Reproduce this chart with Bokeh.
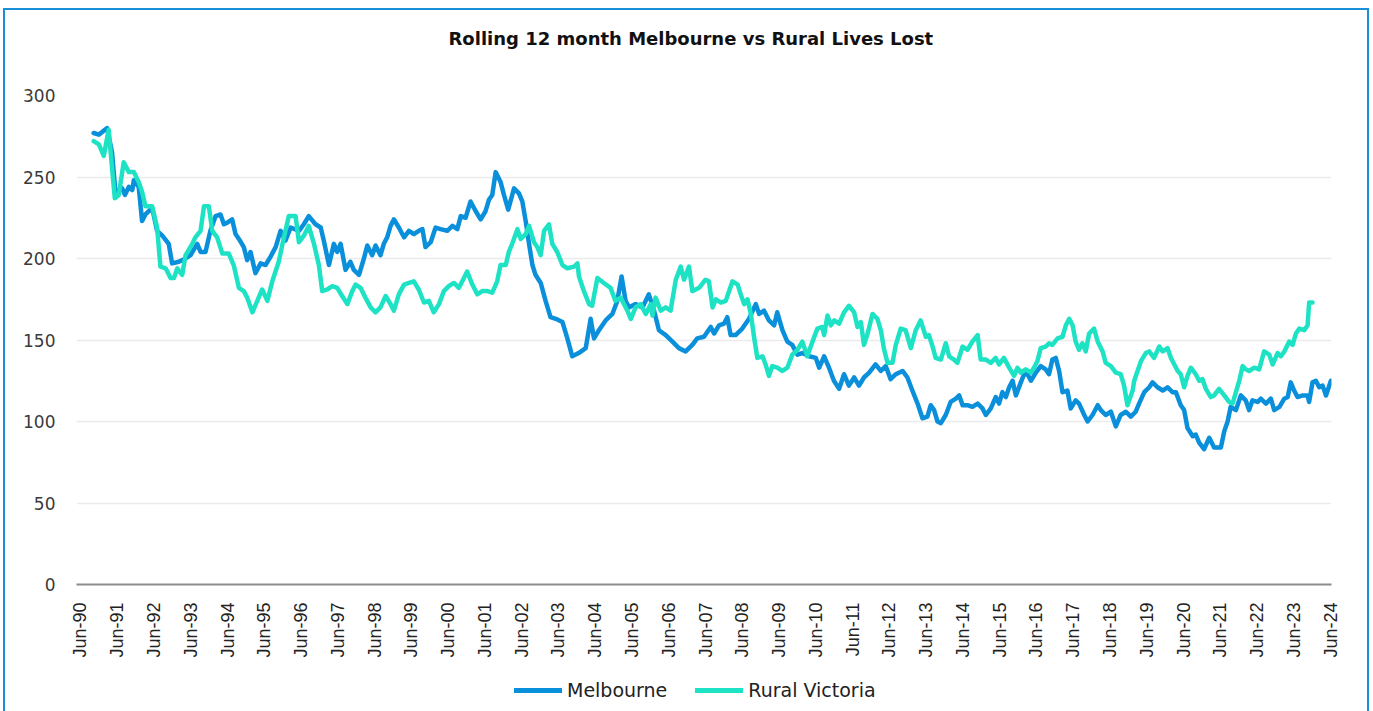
import math
from bokeh.plotting import figure
from bokeh.layouts import column
from bokeh.models import Legend, LegendItem, FixedTicker, Range1d, ColumnDataSource
from bokeh.embed import file_html
from bokeh.resources import INLINE

# x = months since Jun-1990
mel_month = [4.3,6.0,8.7,10.3,11.4,13.6,14.5,15.8,16.9,17.4,
             19.0,20.1,21.2,23.4,25.0,26.7,28.8,29.9,32.1,34.3,
             35.9,38.1,39.2,40.8,42.4,44.1,45.7,46.8,47.9,49.5,
             50.6,51.7,53.3,54.4,55.5,57.1,58.8,60.4,62.0,63.7,
             65.3,66.9,68.6,71.3,72.9,74.5,76.7,78.4,79.4,81.1,
             82.7,83.8,84.9,86.5,88.1,89.2,90.9,92.5,93.6,95.2,
             96.3,97.9,99.0,100.1,101.2,102.3,103.9,105.6,107.2,108.8,
             110.4,111.6,112.6,114.3,115.9,117.5,119.7,121.4,123.0,124.1,
             125.7,127.3,129.0,130.6,132.2,133.3,134.4,135.5,137.1,138.2,
             139.6,141.5,143.1,144.2,145.3,146.4,147.5,148.5,150.2,151.8,
             153.4,155.1,157.3,158.9,160.5,162.6,164.9,166.5,167.6,169.2,
             171.4,173.6,175.2,176.6,177.9,179.0,181.2,183.4,185.5,187.2,
             188.8,191.0,193.2,195.3,197.5,199.7,201.3,203.5,205.7,206.8,
             208.4,210.0,211.1,212.2,213.8,216.0,218.2,220.4,221.5,223.1,
             224.7,226.4,227.4,229.1,230.7,232.3,234.0,235.6,237.8,240.0,
             241.1,242.7,244.3,245.9,247.6,249.2,250.8,252.5,254.1,255.7,
             257.4,259.5,261.2,262.8,264.4,266.1,268.3,269.9,271.5,273.2,
             274.8,276.4,277.5,278.6,279.7,280.8,282.4,284.0,285.7,286.8,
             287.9,289.5,291.1,292.8,294.4,295.5,297.1,298.7,299.8,300.9,
             302.0,303.1,304.2,305.3,306.9,308.0,309.1,310.2,311.8,313.4,
             315.0,316.1,317.2,318.3,319.4,320.5,322.1,323.2,324.8,325.9,
             327.6,328.7,330.3,332.0,333.0,334.6,336.3,337.9,339.5,341.2,
             342.8,344.4,345.5,347.2,348.8,349.9,351.5,353.2,354.8,356.4,
             357.5,359.1,360.2,361.3,363.0,364.0,365.1,366.7,368.4,370.0,
             372.2,373.3,374.4,375.4,377.1,378.7,380.3,381.4,382.5,384.2,
             385.2,386.9,388.5,389.6,391.3,392.9,394.0,395.0,396.1,397.2,
             398.9,400.5,401.0,402.1,403.2,404.3,405.4,406.5,408.1]
mel_value = [277,276,280,265,241,243,239,244,242,248,
             244,223,227,231,217,214,209,197,198,200,
             202,209,204,204,217,226,227,221,222,224,
             215,212,207,199,204,191,197,196,201,207,
             217,211,219,217,221,226,221,219,211,196,
             209,204,209,193,198,193,190,200,208,202,
             208,202,209,213,220,224,219,213,217,215,
             217,218,207,210,219,218,217,220,218,226,
             225,235,229,224,229,236,239,253,247,239,
             230,243,240,235,223,209,196,190,185,174,
             164,163,161,151,140,142,145,163,151,156,
             162,166,174,189,174,170,172,170,178,168,
             156,153,149,145,143,147,151,152,158,154,
             159,160,164,153,153,157,163,172,166,168,
             162,159,167,156,149,147,141,142,140,139,
             133,140,133,125,120,129,122,127,122,127,
             130,135,131,134,126,129,131,127,119,111,
             102,103,110,107,100,99,104,112,114,116,
             110,110,109,111,108,104,108,115,111,118,
             115,121,125,116,124,129,129,125,130,134,
             132,129,138,139,131,118,119,108,113,111,
             104,100,104,110,107,104,106,97,104,106,
             103,106,111,118,121,124,121,119,121,118,
             118,110,107,96,91,92,87,83,90,84,
             84,94,100,109,107,116,113,107,113,112,
             114,111,114,107,109,114,115,124,119,115,
             116,116,112,124,125,121,122,116,125]

rur_month = [4.3,6.0,7.6,9.2,9.8,11.2,12.5,14.1,15.8,17.4,
             19.0,20.1,21.2,23.4,25.0,26.1,27.8,29.4,30.5,31.6,
             33.2,34.3,36.5,37.5,39.2,40.3,41.9,43.0,44.6,46.3,
             48.4,50.0,51.7,53.3,54.4,56.1,57.7,59.3,61.0,62.6,
             64.7,66.4,68.0,70.2,71.3,72.9,74.5,76.2,77.8,78.9,
             80.5,82.2,83.8,85.4,87.1,88.7,89.8,91.4,93.0,94.7,
             96.3,97.9,99.6,101.2,102.3,103.9,105.6,107.2,108.8,110.4,
             112.1,113.7,115.3,117.0,118.6,120.2,121.9,123.5,124.6,126.2,
             127.9,129.5,131.1,132.8,134.4,136.0,137.1,138.8,139.8,140.9,
             142.6,143.7,145.3,146.4,148.0,149.1,150.2,151.3,152.9,154.0,
             155.6,157.3,158.9,161.1,162.2,162.7,164.3,166.0,167.0,168.7,
             170.8,173.0,174.6,176.3,178.5,179.6,181.2,182.8,184.5,186.1,
             186.7,187.7,189.4,191.0,192.6,194.3,195.9,197.0,198.6,199.7,
             201.9,204.0,205.1,206.3,207.4,209.0,210.6,211.7,212.8,214.5,
             215.5,216.6,217.7,218.8,219.9,220.9,222.6,223.6,224.7,225.8,
             227.4,229.1,230.7,232.3,234.0,235.6,237.2,238.9,240.5,242.1,
             242.7,243.8,244.9,246.0,247.6,249.2,250.8,252.5,253.6,254.7,
             255.7,256.9,258.5,260.1,261.2,262.3,263.4,265.0,266.1,267.7,
             269.3,271.0,272.6,274.2,275.9,276.9,278.1,279.1,280.8,282.4,
             283.5,285.1,286.2,287.9,289.5,291.1,292.8,293.8,295.5,297.1,
             298.7,299.8,301.4,303.1,304.7,305.8,306.9,308.5,310.2,311.2,
             312.3,313.4,315.0,316.1,317.2,318.9,320.5,321.6,322.7,323.8,
             324.8,325.9,327.0,328.1,329.2,330.8,332.0,333.6,334.6,336.3,
             337.9,339.5,340.6,341.7,343.4,343.9,345.0,346.1,347.7,348.8,
             350.4,352.1,353.2,354.8,355.9,357.0,358.1,359.1,360.2,361.3,
             362.4,364.0,365.1,366.2,367.3,368.9,370.0,371.6,373.3,374.9,
             376.0,377.1,378.2,379.3,380.3,381.4,383.1,384.7,386.3,388.0,
             389.1,390.7,391.8,392.9,394.5,395.6,396.7,397.8,399.4,400.5,
             401.0,402.1]
rur_value = [272,270,263,279,266,237,239,259,253,253,
             247,241,232,232,219,195,194,188,188,194,
             190,202,209,213,217,232,232,217,213,203,
             203,196,182,180,176,167,174,181,174,186,
             198,213,226,226,210,214,220,209,196,180,
             181,183,182,177,172,180,184,182,176,170,
             167,170,177,172,168,178,184,185,186,181,
             173,174,167,172,180,183,185,182,186,192,
             184,178,180,180,179,186,196,196,204,209,
             218,212,215,220,210,207,202,217,221,209,
             204,196,194,195,197,189,180,172,171,188,
             185,182,174,176,168,163,170,172,166,172,
             165,176,168,170,168,187,195,187,195,180,
             182,187,186,170,175,173,174,180,186,184,
             178,172,175,166,151,139,140,135,128,134,
             133,131,133,141,144,149,140,149,157,158,
             153,165,159,162,160,167,171,167,158,161,
             147,154,166,163,156,144,136,136,147,157,
             156,145,156,162,152,153,146,139,138,148,
             140,138,136,146,144,149,153,138,138,136,
             139,135,139,133,128,133,130,132,130,133,
             137,145,146,148,147,151,152,159,163,159,
             149,144,148,143,154,157,149,143,136,134,
             130,129,122,110,119,125,131,137,142,143,
             139,146,143,145,139,135,131,129,121,128,
             133,129,125,126,120,115,116,120,116,112,
             111,118,125,134,132,131,133,132,143,141,
             135,142,140,143,149,147,154,157,156,159,
             173,173]

tick_months = [0,12,24,36,48,60,72,84,96,108,120,132,144,156,168,180,192,
               204,216,228,240,252,264,276,288,300,312,324,336,348,360,372,384,396,408]
tick_labels = ["Jun-90","Jun-91","Jun-92","Jun-93","Jun-94","Jun-95","Jun-96","Jun-97",
               "Jun-98","Jun-99","Jun-00","Jun-01","Jun-02","Jun-03","Jun-04","Jun-05",
               "Jun-06","Jun-07","Jun-08","Jun-09","Jun-10","Jun-11","Jun-12","Jun-13",
               "Jun-14","Jun-15","Jun-16","Jun-17","Jun-18","Jun-19","Jun-20","Jun-21",
               "Jun-22","Jun-23","Jun-24"]
y_ticks = [0, 50, 100, 150, 200, 250, 300]
series_names = ["Melbourne", "Rural Victoria"]
title_text = "Rolling 12 month Melbourne vs Rural Lives Lost"

MEL_COLOR = "#0A8FDB"
RUR_COLOR = "#1EE2C4"
BORDER = "#1A8FD9"

mel_src = ColumnDataSource(dict(x=mel_month, y=mel_value))
rur_src = ColumnDataSource(dict(x=rur_month, y=rur_value))

# ---------------- main chart ----------------
p = figure(width=1362, height=667, output_backend="svg", toolbar_location=None,
           x_range=Range1d(-1.3, 408.3), y_range=Range1d(0, 300),
           min_border_left=71, min_border_right=36, min_border_top=84,
           min_border_bottom=93)

# blank second line gives the title panel extra height so the text sits near the top
p.title.text = title_text + "\n "
p.title.align = "left"
p.title.offset = 372
p.title.vertical_align = "top"
p.title.text_font = "DejaVu Sans"
p.title.text_font_style = "bold"
p.title.text_font_size = "18px"
p.title.text_line_height = 1.3
p.title.text_color = "#111111"
p.title.standoff = 35

p.line("x", "y", source=mel_src, line_color=MEL_COLOR, line_width=4.5,
       line_join="round", line_cap="round")
p.line("x", "y", source=rur_src, line_color=RUR_COLOR, line_width=4.5,
       line_join="round", line_cap="round")

p.outline_line_color = None
p.xgrid.grid_line_color = None
p.ygrid.grid_line_color = "#EBEBEB"
p.ygrid.grid_line_width = 1.5
p.ygrid.ticker = FixedTicker(ticks=y_ticks)

p.yaxis.ticker = FixedTicker(ticks=y_ticks)
p.yaxis.axis_line_color = None
p.yaxis.major_tick_line_color = None
p.yaxis.minor_tick_line_color = None
p.yaxis.major_label_text_font = "DejaVu Sans"
p.yaxis.major_label_text_font_size = "17px"
p.yaxis.major_label_text_color = "#3A3A3A"
p.yaxis.major_label_standoff = 15

p.xaxis.ticker = FixedTicker(ticks=tick_months)
p.xaxis.major_label_overrides = {m: l for m, l in zip(tick_months, tick_labels)}
p.xaxis.major_label_orientation = math.pi / 2
p.xaxis.axis_line_color = "#8C8C8C"
p.xaxis.axis_line_width = 2
p.xaxis.major_tick_line_color = None
p.xaxis.minor_tick_line_color = None
p.xaxis.major_label_text_font = "Liberation Sans"
p.xaxis.major_label_text_font_size = "18px"
p.xaxis.major_label_text_color = "#222222"
p.xaxis.major_label_standoff = 12

# ---------------- legend strip (series drawn outside its view, only the key shows) ----
lg = figure(width=1362, height=34, output_backend="svg", toolbar_location=None,
            x_range=Range1d(0, 1), y_range=Range1d(0, 1),
            x_axis_type=None, y_axis_type=None, min_border=0)
lg.outline_line_color = None
l_mel = lg.line("x", "y", source=mel_src, line_color=MEL_COLOR, line_width=5,
                line_cap="round")
l_rur = lg.line("x", "y", source=rur_src, line_color=RUR_COLOR, line_width=5,
                line_cap="round")

legend = Legend(items=[LegendItem(label=series_names[0], renderers=[l_mel]),
                       LegendItem(label=series_names[1], renderers=[l_rur])],
                location=(436, 8), orientation="horizontal")
legend.glyph_width = 48
legend.glyph_height = 20
legend.label_height = 20
legend.label_standoff = 5
legend.spacing = 28
legend.padding = 2
legend.margin = 0
legend.label_text_font = "DejaVu Sans"
legend.label_text_font_size = "19px"
legend.label_text_color = "#222222"
legend.border_line_alpha = 0
legend.background_fill_alpha = 0
lg.add_layout(legend, "center")

layout = column(p, lg, spacing=0)
layout.styles = {"margin-left": "3px", "margin-top": "8px",
                 "border-top": f"2px solid {BORDER}", "border-left": f"2px solid {BORDER}",
                 "border-right": f"2px solid {BORDER}"}

open("out.html", "w").write(file_html(layout, INLINE))
